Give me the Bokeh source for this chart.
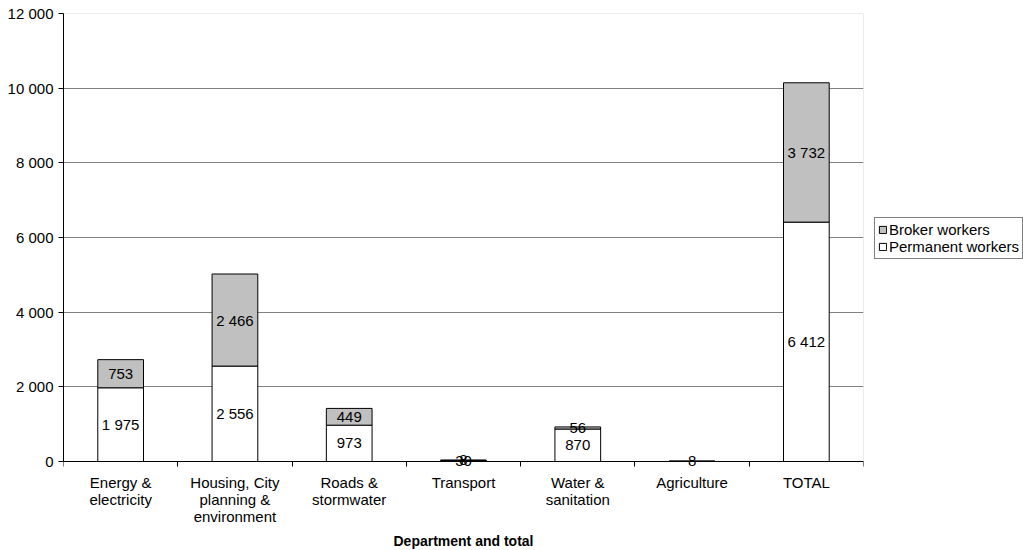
from bokeh.plotting import figure
from bokeh.models import (ColumnDataSource, Range1d, FixedTicker, Legend, LegendItem,
                          Label, LinearAxis, BoxAnnotation)
from bokeh.embed import file_html
from bokeh.resources import INLINE

categories = ["Energy &\nelectricity", "Housing, City\nplanning &\nenvironment",
              "Roads &\nstormwater", "Transport", "Water &\nsanitation",
              "Agriculture", "TOTAL"]
permanent = [1975, 2556, 973, 30, 870, 8, 6412]
broker = [753, 2466, 449, 8, 56, 0, 3732]
y_ticks = [0, 2000, 4000, 6000, 8000, 10000, 12000]
y_tick_labels = ["0", "2 000", "4 000", "6 000", "8 000", "10 000", "12 000"]

FONT = "Liberation Sans"
FS = "15px"

Y_MAX = 12000
PLOT_H = 448          # pixel height of the 0..12000 value span
BELOW_H = 89          # room under the value axis for labels and title
y_min = -Y_MAX * BELOW_H / PLOT_H

def fmt(v):
    return f"{v:,}".replace(",", " ")

xs = [i + 0.5 for i in range(len(categories))]
src = ColumnDataSource(dict(x=xs, permanent=permanent, broker=broker))

p = figure(frame_width=800, frame_height=PLOT_H + BELOW_H,
           x_range=Range1d(0, len(categories)), y_range=Range1d(y_min, Y_MAX),
           output_backend="svg", toolbar_location=None,
           min_border_left=63, min_border_top=13, min_border_right=158,
           min_border_bottom=0, x_axis_location=None)
p.background_fill_color = "white"
p.border_fill_color = "white"
p.outline_line_color = None

# plot-area border (top and right visible in grey)
p.add_layout(BoxAnnotation(left=0, right=len(categories), bottom=0, top=Y_MAX,
                           fill_alpha=0, line_color="#808080", line_width=1,
                           level="underlay"))

rs = p.vbar_stack(["permanent", "broker"], x="x", width=0.4, source=src,
                  fill_color=["white", "#C0C0C0"], line_color="black", line_width=1)

# segment labels
for x, pv, bv in zip(xs, permanent, broker):
    segs = []
    if pv:
        segs.append((pv / 2, fmt(pv)))
    if bv:
        segs.append((pv + bv / 2, fmt(bv)))
    for y, t in segs:
        p.add_layout(Label(x=x, y=y, text=t, text_align="center",
                           text_baseline="middle", text_font=FONT,
                           text_font_size=FS, text_color="black"))

# grid
p.xgrid.visible = False
p.ygrid.ticker = FixedTicker(ticks=y_ticks)
p.ygrid.grid_line_color = "#808080"
p.ygrid.grid_line_width = 1

# y axis
ya = p.yaxis[0]
ya.ticker = FixedTicker(ticks=y_ticks)
ya.bounds = (0, Y_MAX)
ya.major_label_overrides = {t: l for t, l in zip(y_ticks, y_tick_labels)}
ya.major_tick_in = 0
ya.major_tick_out = 5
ya.minor_tick_out = 0
ya.minor_tick_in = 0
ya.axis_line_color = "black"
ya.major_tick_line_color = "black"
ya.major_label_text_font = FONT
ya.major_label_text_font_size = FS
ya.major_label_text_color = "black"
ya.major_label_standoff = 5

# x axis, fixed at value 0
xa = LinearAxis(fixed_location=0)
p.add_layout(xa, "below")
xa.ticker = FixedTicker(ticks=xs, minor_ticks=list(range(len(categories) + 1)))
xa.major_label_overrides = {x: c for x, c in zip(xs, categories)}
xa.major_tick_in = 0
xa.major_tick_out = 0
xa.minor_tick_in = 0
xa.minor_tick_out = 5
xa.minor_tick_line_color = "black"
xa.axis_line_color = "black"
xa.major_label_text_font = FONT
xa.major_label_text_font_size = FS
xa.major_label_text_line_height = 1.0
xa.major_label_text_color = "black"
xa.major_label_standoff = 7
xa.axis_label = "Department and total"
xa.axis_label_text_font = FONT
xa.axis_label_text_font_style = "bold"
xa.axis_label_text_font_size = "14px"
xa.axis_label_text_color = "black"
xa.axis_label_standoff = 5

legend = Legend(items=[LegendItem(label="Broker workers", renderers=[rs[1]]),
                       LegendItem(label="Permanent workers", renderers=[rs[0]])],
                location=(11, 291), margin=0, padding=3, spacing=0,
                glyph_width=9, glyph_height=9, label_standoff=2,
                label_height=16, label_text_font=FONT,
                label_text_font_size=FS, label_text_color="black",
                border_line_color="black", border_line_width=1,
                background_fill_color="white", background_fill_alpha=1)
p.add_layout(legend, "right")

open("out.html", "w").write(file_html(p, INLINE))
